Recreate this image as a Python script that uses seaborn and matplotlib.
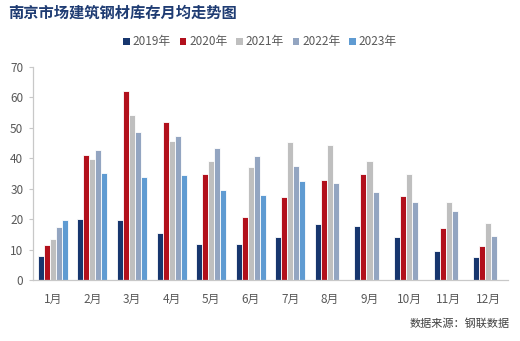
import matplotlib
matplotlib.use("Agg")
import matplotlib.pyplot as plt
import seaborn as sns
import pandas as pd
import numpy as np
from matplotlib.patches import Patch

months = ["1月", "2月", "3月", "4月", "5月", "6月", "7月", "8月", "9月", "10月", "11月", "12月"]
years = ["2019年", "2020年", "2021年", "2022年", "2023年"]
v2019 = [7.9, 20.1, 19.7, 15.5, 11.8, 11.8, 14.1, 18.4, 17.8, 14.1, 9.5, 7.5]
v2020 = [11.5, 41.1, 62.2, 52.0, 34.9, 20.7, 27.3, 32.9, 34.9, 27.6, 17.1, 11.2]
v2021 = [13.5, 39.8, 54.3, 45.7, 39.1, 37.2, 45.4, 44.4, 39.1, 34.9, 25.7, 18.7]
v2022 = [17.4, 42.8, 48.7, 47.4, 43.4, 40.8, 37.5, 31.9, 28.9, 25.7, 22.7, 14.5]
v2023 = [19.7, 35.2, 33.9, 34.5, 29.6, 28.0, 32.6, np.nan, np.nan, np.nan, np.nan, np.nan]

colors = ["#17366E", "#B2101C", "#BFBFBF", "#93A5C1", "#5F9BD2"]

rows = []
for y, vals in zip(years, [v2019, v2020, v2021, v2022, v2023]):
    for m, v in zip(months, vals):
        rows.append({"月份": m, "年份": y, "值": v})
df = pd.DataFrame(rows)

sns.set_style("white")
plt.rcParams['font.family'] = ['Noto Sans CJK SC', 'DejaVu Sans']

fig = plt.figure(figsize=(5.2, 3.41), dpi=100)
ax = fig.add_axes([0.0635, 0.179, 0.9135, 0.6245])

sns.barplot(data=df, x="月份", y="值", hue="年份", order=months, hue_order=years,
            palette=colors, width=0.76, edgecolor="white", linewidth=0.6,
            errorbar=None, legend=False, ax=ax, saturation=1)

ax.set_ylim(0, 70)
ax.set_yticks(range(0, 71, 10))
ax.set_xlim(-0.5, 11.5)
ax.set_xlabel("")
ax.set_ylabel("")
for s in ["top", "right"]:
    ax.spines[s].set_visible(False)
for s in ["left", "bottom"]:
    ax.spines[s].set_color("#C8C8C8")
    ax.spines[s].set_linewidth(0.9)
ax.tick_params(axis="y", which="both", left=True, length=3, color="#C8C8C8",
               labelsize=8.5, labelcolor="#595959", pad=4)
ax.tick_params(axis="x", bottom=False, labelsize=8.5, labelcolor="#595959", pad=6)

handles = [Patch(facecolor=c, edgecolor="none") for c in colors]
fig.legend(handles, years, loc="center", bbox_to_anchor=(0.5, 0.877), ncol=5,
           frameon=False, fontsize=8.5, handlelength=0.55, handleheight=0.55,
           handletextpad=0.25, columnspacing=0.75, labelcolor="#595959")

fig.text(0.015, 0.962, "南京市场建筑钢材库存月均走势图", fontsize=11, fontweight="bold",
         color="#1F3C73", ha="left", va="center")
fig.text(0.98, 0.05, "数据来源：钢联数据", fontsize=8, color="#404040",
         ha="right", va="center")

fig.savefig("out.png", dpi=100)
